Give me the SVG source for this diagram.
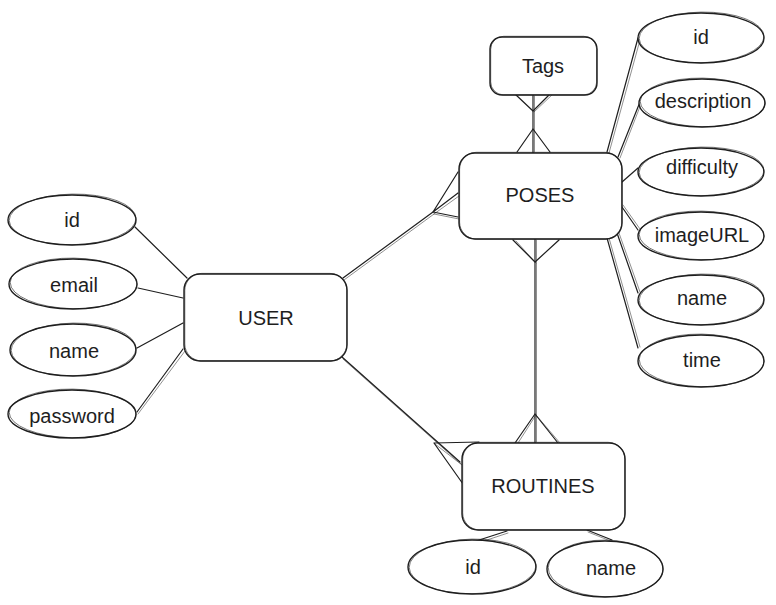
<svg xmlns="http://www.w3.org/2000/svg" width="776" height="605" viewBox="0 0 776 605">
  <style>
    .shape { fill: #ffffff; stroke: #1e1e1e; stroke-width: 1.4; }
    .sketch { fill: none; stroke: #1e1e1e; stroke-width: 0.8; opacity: 0.75; }
    .label { font-family: "Liberation Sans", "DejaVu Sans", sans-serif; font-size: 20px; fill: #1e1e1e; text-anchor: middle; }
    .line { fill: none; stroke: #1e1e1e; stroke-width: 1.2; stroke-linecap: round; stroke-linejoin: round; }
    .line2 { fill: none; stroke: #1e1e1e; stroke-width: 0.7; opacity: 0.7; stroke-linecap: round; }
  </style>
  <rect width="776" height="605" fill="#ffffff"/>

  <!-- relationships and attribute links -->
  <g id="connectors">
    <!-- USER - POSES (many at POSES) -->
    <path class="line" d="M343 278 L433 212"/>
    <path class="line2" d="M344 280 L434 214"/>
    <path class="line" d="M433 212 L458 172 M433 212 L458 193 M433 212 L458 217"/>
    <path class="line2" d="M434 214 L459 196 M434 214 L459 219"/>

    <!-- Tags - POSES (many to many) -->
    <path class="line" d="M533 95 L533 153"/>
    <path class="line2" d="M534.5 96 L534.5 152"/>
    <path class="line" d="M533 111 L515 94 M533 111 L550 94"/>
    <path class="line2" d="M534 112 L553 94"/>
    <path class="line" d="M533 129 L517 152 M533 129 L550 152"/>

    <!-- POSES - ROUTINES (many to many) -->
    <path class="line" d="M535 239 L535 443"/>
    <path class="line2" d="M536.5 240 L536.5 442"/>
    <path class="line" d="M535 262 L513 240 M535 262 L559 240"/>
    <path class="line2" d="M536 263 L516 241"/>
    <path class="line" d="M535 414 L515 443 M535 414 L558 443"/>
    <path class="line2" d="M536 415 L518 443 M536 415 L560 443"/>

    <!-- USER - ROUTINES (many at ROUTINES) -->
    <path class="line" d="M342 357 L460 462"/>
    <path class="line2" d="M343 359 L461 464"/>
    <path class="line" d="M434 443 L479 442 M434 443 L463 484"/>
    <path class="line2" d="M435 444 L462 465"/>

    <!-- USER attributes -->
    <path class="line" d="M135 227 L187 278"/>
    <path class="line" d="M138 288 L183 298"/>
    <path class="line" d="M137 348 L183 323"/>
    <path class="line" d="M137 412 L183 349"/>
    <path class="line2" d="M138 414 L185 351"/>

    <!-- POSES attributes -->
    <path class="line" d="M607 152 L638 38"/>
    <path class="line2" d="M609 153 L640 40"/>
    <path class="line" d="M618 157 L640 102"/>
    <path class="line2" d="M620 158 L641 104"/>
    <path class="line" d="M622 182 L638 168"/>
    <path class="line" d="M622 207 L638 230"/>
    <path class="line2" d="M623 205 L640 229"/>
    <path class="line" d="M617 233 L638 293"/>
    <path class="line2" d="M619 233 L640 292"/>
    <path class="line" d="M607 238 L638 348"/>
    <path class="line2" d="M609 238 L640 347"/>

    <!-- ROUTINES attributes -->
    <path class="line" d="M507 531 L473 542"/>
    <path class="line2" d="M508 533 L475 544"/>
    <path class="line" d="M587 530 L612 540"/>
    <path class="line2" d="M588 532 L613 542"/>
  </g>

  <!-- entities -->
  <g id="user">
    <rect class="shape" x="184" y="274" width="163" height="87" rx="16"/>
    <rect class="sketch" x="184.8" y="273.4" width="162" height="87.5" rx="17"/>
    <text class="label" x="266" y="325">USER</text>
  </g>
  <g id="poses">
    <rect class="shape" x="459" y="153" width="163" height="86" rx="16"/>
    <rect class="sketch" x="459.6" y="152.3" width="162.2" height="86.8" rx="17"/>
    <text class="label" x="540" y="202">POSES</text>
  </g>
  <g id="tags">
    <rect class="shape" x="490" y="37" width="107" height="58" rx="12"/>
    <rect class="sketch" x="490.7" y="36.3" width="106" height="58.6" rx="13"/>
    <text class="label" x="543" y="73">Tags</text>
  </g>
  <g id="routines">
    <rect class="shape" x="462" y="443" width="163" height="87" rx="16"/>
    <rect class="sketch" x="462.7" y="442.3" width="162.2" height="87.6" rx="17"/>
    <text class="label" x="543" y="493">ROUTINES</text>
  </g>

  <!-- USER attributes -->
  <g id="user-id">
    <ellipse class="shape" cx="72" cy="220" rx="64" ry="25"/>
    <ellipse class="sketch" cx="72.6" cy="219.4" rx="63.4" ry="25.3" transform="rotate(-1 72 220)"/>
    <text class="label" x="72" y="227">id</text>
  </g>
  <g id="user-email">
    <ellipse class="shape" cx="73" cy="284" rx="64" ry="25"/>
    <ellipse class="sketch" cx="73.6" cy="283.4" rx="63.4" ry="25.3" transform="rotate(1 73 284)"/>
    <text class="label" x="74" y="292">email</text>
  </g>
  <g id="user-name">
    <ellipse class="shape" cx="73" cy="350" rx="63" ry="26"/>
    <ellipse class="sketch" cx="73.6" cy="349.4" rx="62.4" ry="26.3" transform="rotate(-1 73 350)"/>
    <text class="label" x="74" y="358">name</text>
  </g>
  <g id="user-password">
    <ellipse class="shape" cx="72" cy="414" rx="64" ry="24"/>
    <ellipse class="sketch" cx="72.6" cy="413.4" rx="63.4" ry="24.3" transform="rotate(1 72 414)"/>
    <text class="label" x="72" y="423">password</text>
  </g>

  <!-- POSES attributes -->
  <g id="pose-id">
    <ellipse class="shape" cx="701" cy="38" rx="63" ry="25"/>
    <ellipse class="sketch" cx="701.6" cy="37.4" rx="62.4" ry="25.3" transform="rotate(-1 701 38)"/>
    <text class="label" x="701" y="44">id</text>
  </g>
  <g id="pose-description">
    <ellipse class="shape" cx="702" cy="103" rx="63" ry="24"/>
    <ellipse class="sketch" cx="702.6" cy="102.4" rx="62.4" ry="24.3" transform="rotate(1 702 103)"/>
    <text class="label" x="703" y="108">description</text>
  </g>
  <g id="pose-difficulty">
    <ellipse class="shape" cx="701" cy="172" rx="63" ry="24"/>
    <ellipse class="sketch" cx="701.6" cy="171.4" rx="62.4" ry="24.3" transform="rotate(-1 701 172)"/>
    <text class="label" x="702" y="174">difficulty</text>
  </g>
  <g id="pose-imageurl">
    <ellipse class="shape" cx="701" cy="236" rx="63" ry="24"/>
    <ellipse class="sketch" cx="701.6" cy="235.4" rx="62.4" ry="24.3" transform="rotate(1 701 236)"/>
    <text class="label" x="702" y="242">imageURL</text>
  </g>
  <g id="pose-name">
    <ellipse class="shape" cx="701" cy="300" rx="63" ry="25"/>
    <ellipse class="sketch" cx="701.6" cy="299.4" rx="62.4" ry="25.3" transform="rotate(-1 701 300)"/>
    <text class="label" x="702" y="305">name</text>
  </g>
  <g id="pose-time">
    <ellipse class="shape" cx="701" cy="361" rx="63" ry="26"/>
    <ellipse class="sketch" cx="701.6" cy="360.4" rx="62.4" ry="26.3" transform="rotate(1 701 361)"/>
    <text class="label" x="702" y="367">time</text>
  </g>

  <!-- ROUTINES attributes -->
  <g id="routine-id">
    <ellipse class="shape" cx="472" cy="567" rx="64" ry="27"/>
    <ellipse class="sketch" cx="472.6" cy="566.4" rx="63.4" ry="27.3" transform="rotate(-1 472 567)"/>
    <text class="label" x="473" y="574">id</text>
  </g>
  <g id="routine-name">
    <ellipse class="shape" cx="605" cy="569" rx="58" ry="28"/>
    <ellipse class="sketch" cx="605.6" cy="568.4" rx="57.4" ry="28.3" transform="rotate(1 605 569)"/>
    <text class="label" x="611" y="575">name</text>
  </g>
</svg>
